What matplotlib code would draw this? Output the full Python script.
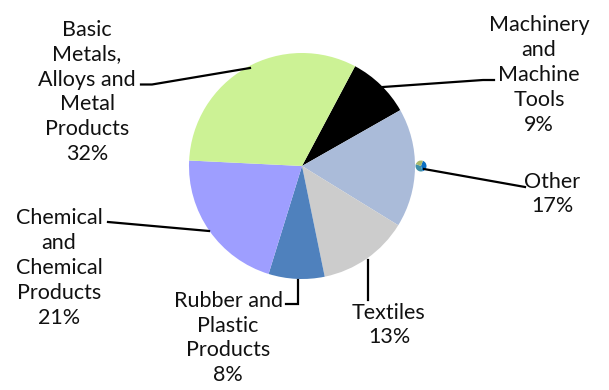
import matplotlib
matplotlib.use("Agg")
import matplotlib.pyplot as plt

labels = ["Machinery\nand\nMachine\nTools\n9%", "Other\n17%", "Textiles\n13%",
          "Rubber and\nPlastic\nProducts\n8%", "Chemical\nand\nChemical\nProducts\n21%",
          "Basic\nMetals,\nAlloys and\nMetal\nProducts\n32%"]
shares = [9, 17, 13, 8, 21, 32]
colors = ["#000000", "#aabbd9", "#cccccc", "#4f81bd", "#9e9eff", "#ccf295"]

# label centres, then the elbow polylines running to each slice
label_x = [539, 552, 389, 228, 59, 87]
label_y = [75, 194, 325, 338, 268, 92]
leader_x = [[383, 483, 494], [424, 525], [368, 368], [298, 298, 286], [209, 108], [250, 152, 141]]
leader_y = [[87, 80, 80], [169, 187], [260, 300], [280, 304, 304], [231, 222], [68, 84.5, 84.5]]

# the little globe icon beside the Other slice
globe_parts = [40, 35, 25]
globe_colors = ["#0b6fc2", "#3d8fa8", "#a9b86a"]

plt.rcParams["font.family"] = ["Lato", "DejaVu Sans"]
fig = plt.figure(figsize=(6.09, 3.90), dpi=100)
ax = fig.add_axes([0, 0, 1, 1])

# y axis runs downward, so counterclock here reads clockwise on the page
ax.pie(shares, colors=colors, startangle=-62, counterclock=True,
       center=(302, 166), radius=113, frame=True)
ax.pie(globe_parts, colors=globe_colors, startangle=-70, counterclock=True,
       center=(421, 166), radius=5.5, frame=True)
ax.set_xlim(0, 609)
ax.set_ylim(390, 0)
ax.axis("off")

for lx, ly in zip(leader_x, leader_y):
    ax.plot(lx, ly, color="black", lw=1.6, solid_joinstyle="miter")

for x, y, s in zip(label_x, label_y, labels):
    ax.text(x, y, s, ha="center", va="center", fontsize=15.5, linespacing=1.31, color="#111111")

fig.savefig("out.png", dpi=100)
